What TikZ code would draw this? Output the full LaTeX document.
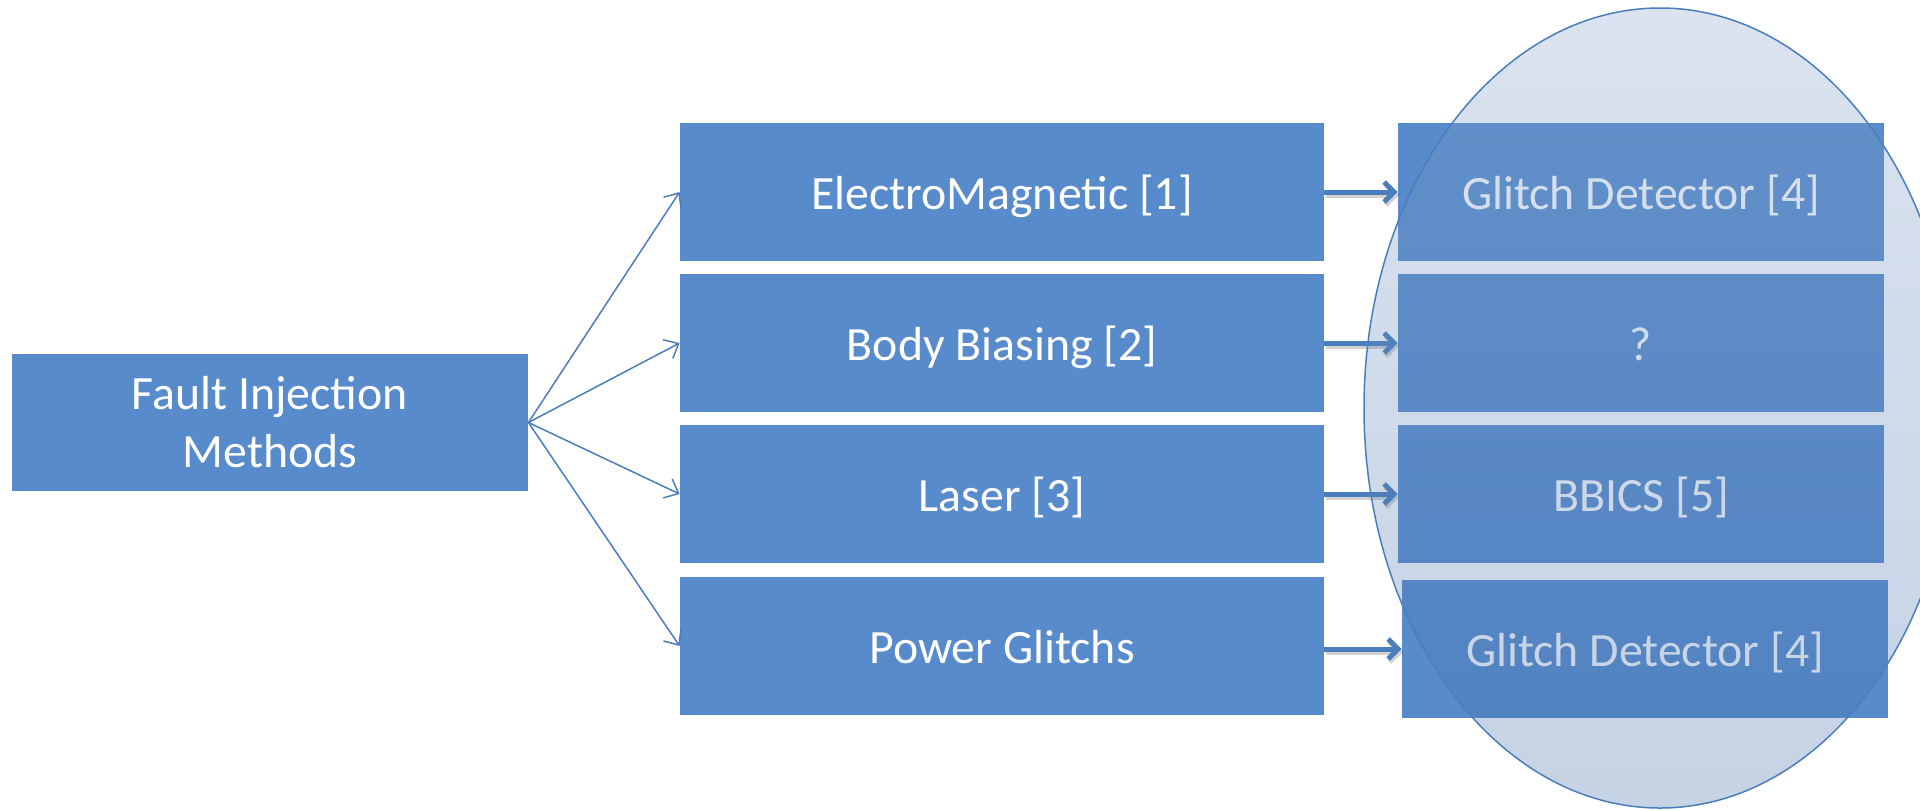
\documentclass[tikz,border=0pt]{standalone}
\usepackage{fontspec}
\setmainfont{Carlito}
\usetikzlibrary{arrows.meta}
\definecolor{boxblue}{HTML}{588BCB}
\definecolor{linblue}{HTML}{4A7EBB}
\definecolor{elltop}{HTML}{84A2CA}
\definecolor{ellbot}{HTML}{3E6CA8}
\begin{document}
\begin{tikzpicture}[x=0.5pt,y=-0.5pt,
  box/.style={rectangle, fill=boxblue, text=white, minimum height=69pt, inner sep=0pt, align=center, font=\fontsize{23.9pt}{29pt}\selectfont},
  srcbox/.style={box, minimum width=258pt, minimum height=68.5pt},
  onerow/.style={box, text height=22.5pt, text depth=5.5pt},
  midbox/.style={onerow, minimum width=322pt},
  detbox/.style={onerow, minimum width=243pt},
  fanarrow/.style={draw=linblue, line width=0.75pt, -{Straight Barb[length=6pt,width=10.5pt,line width=0.75pt]}},
  thickarrow/.style={draw=linblue, line width=2.5pt, -{Straight Barb[length=5pt,width=10pt,line width=2.5pt]}},
  arrowshadow/.style={thickarrow, draw=black, opacity=0.18, transform canvas={shift={(0.8pt,-1.5pt)}}}
]
\useasboundingbox (0,0) rectangle (1920,810);

\node[srcbox] (fim) at (270,422.5) {Fault Injection\\Methods};

\node[midbox] (m1) at (1002,192) {ElectroMagnetic [1]};
\node[midbox] (m2) at (1002,343) {Body Biasing [2]};
\node[midbox] (m3) at (1002,494) {Laser [3]};
\node[midbox] (m4) at (1002,646) {Power Glitchs};

\node[detbox] (d1) at (1641,192) {Glitch Detector [4]};
\node[detbox] (d2) at (1641,343) {?};
\node[detbox] (d3) at (1641,494) {BBICS [5]};
\node[detbox] (d4) at (1645,649) {Glitch Detector [4]};

\foreach \m in {m1,m2,m3,m4}
  \draw[fanarrow] (fim.east) -- (\m.west);

\foreach \a/\b in {m1/d1,m2/d2,m3/d3}
  \draw[arrowshadow] (\a.east) -- (\b.west);
\draw[arrowshadow] (m4.east |- d4.west) -- (d4.west);
\foreach \a/\b in {m1/d1,m2/d2,m3/d3}
  \draw[thickarrow] (\a.east) -- (\b.west);
\draw[thickarrow] (m4.east |- d4.west) -- (d4.west);

\shade[top color=elltop, bottom color=ellbot, fill opacity=0.3] (1660,408) ellipse [x radius=148pt, y radius=200pt];
\draw[linblue, line width=0.75pt] (1660,408) ellipse [x radius=148pt, y radius=200pt];
\end{tikzpicture}
\end{document}
